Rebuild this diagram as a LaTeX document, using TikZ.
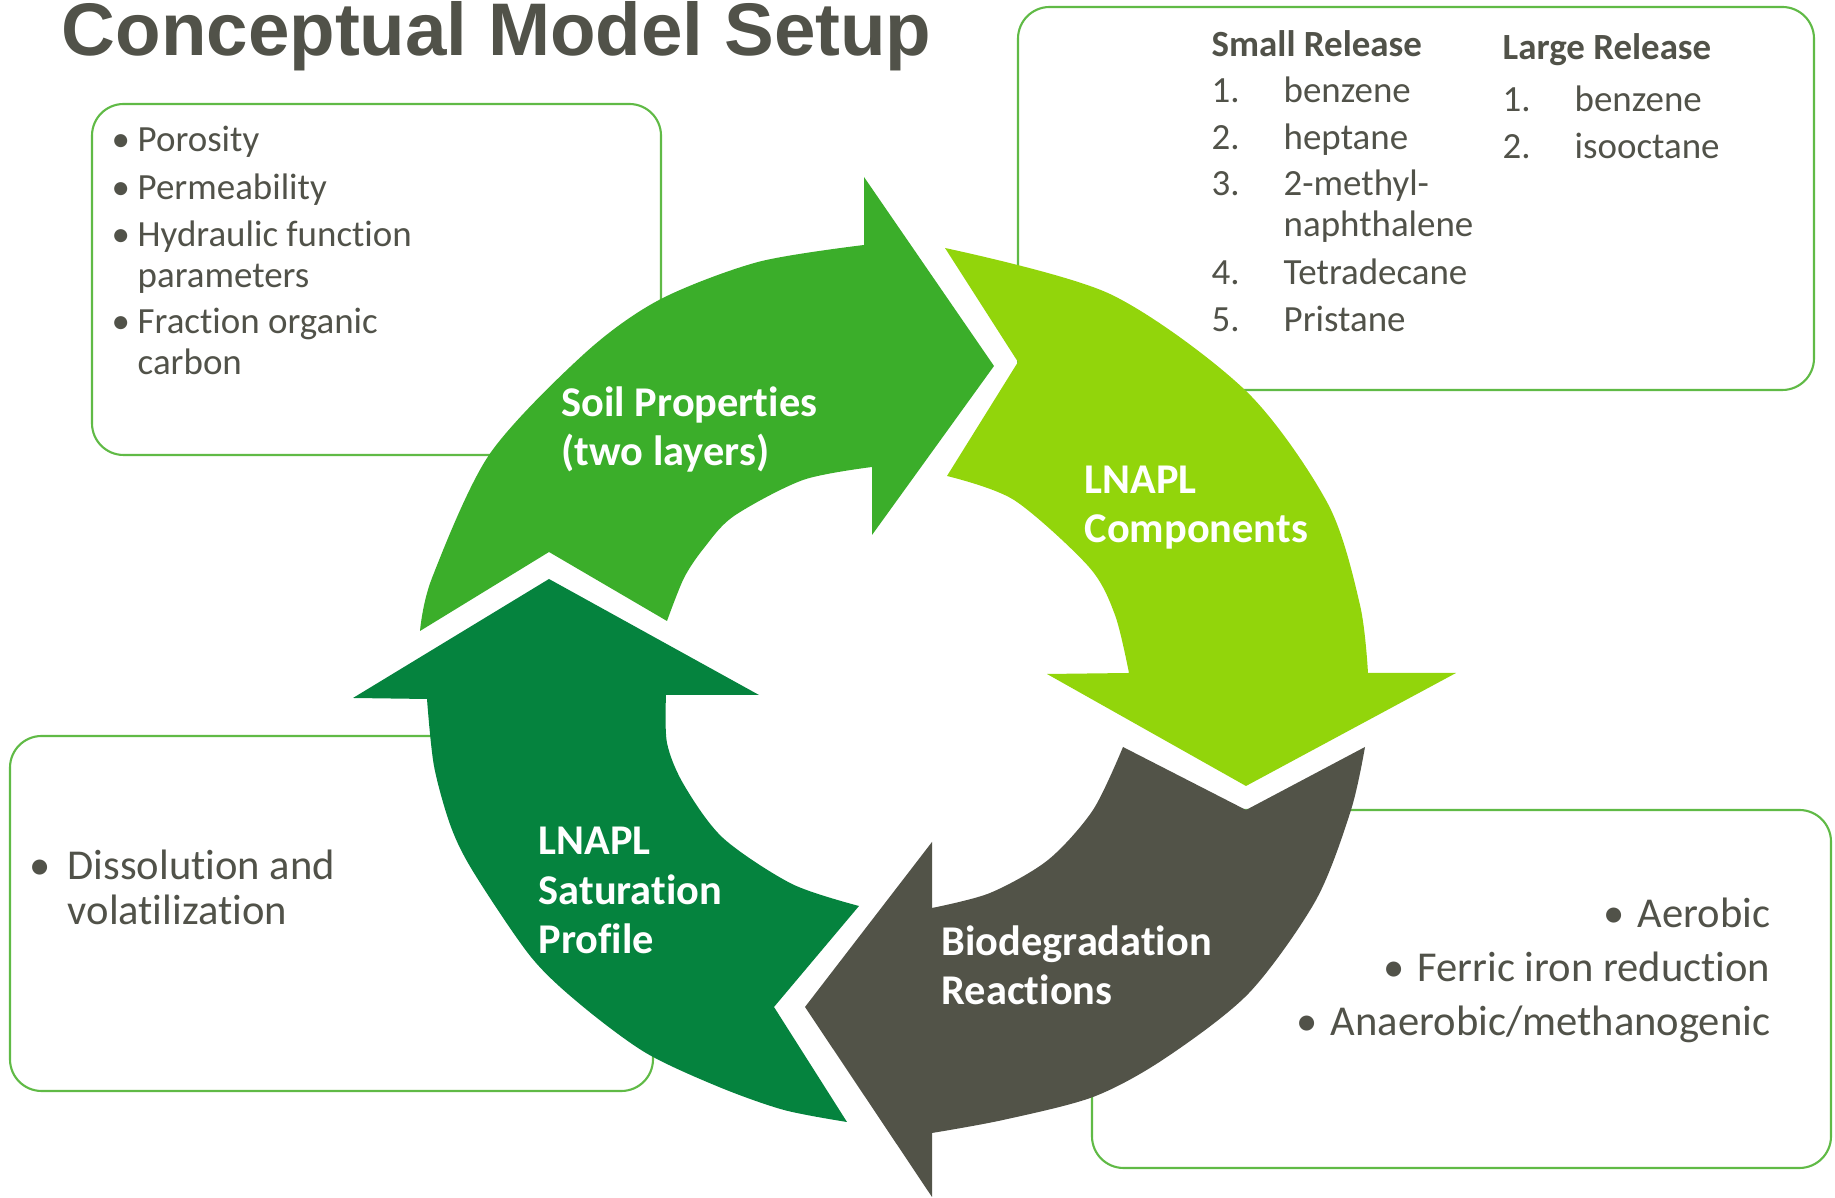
\documentclass[tikz,border=0pt]{standalone}
\usepackage{fontspec}
\setmainfont{Carlito}[Ligatures=NoCommon]
\newfontfamily\titlefont{Liberation Sans}

\definecolor{textgray}{RGB}{81,82,73}
\definecolor{boxgreen}{RGB}{96,186,70}
\definecolor{soilgreen}{RGB}{59,174,42}
\definecolor{compgreen}{RGB}{146,213,11}
\definecolor{satgreen}{RGB}{5,131,62}
\definecolor{biogray}{RGB}{82,83,72}

\begin{document}
\begin{tikzpicture}[x=0.01cm,y=-0.01cm,
    infobox/.style={draw=boxgreen,line width=0.6pt,rounded corners=9pt,fill=white},
    listtext/.style={anchor=base west,inner sep=0pt,text=textgray,align=left,
      font=\fontsize{10.5}{11.7}\selectfont},
    bigtext/.style={listtext,font=\fontsize{12.1}{13}\selectfont},
    arrowtext/.style={anchor=base west,inner sep=0pt,text=white,align=left,
      font=\bfseries\fontsize{12.05}{14.2}\selectfont}]

    \useasboundingbox (0,0) rectangle (1835,1198);

    % Title
    \node[anchor=base west,inner sep=0pt,text=textgray,
      font=\titlefont\bfseries\fontsize{21.2}{25}\selectfont] (title) at (61,56) {Conceptual Model Setup};

    % Boxes (behind the cycle)
    \draw[infobox] (92,104) rectangle (661,455);
    \draw[infobox] (1018,7) rectangle (1814,390);
    \draw[infobox] (10,736) rectangle (653,1091);
    \draw[infobox] (1092,810) rectangle (1831,1168);

    % Soil parameters (multi-line nodes sit on their last baseline)
    \node[listtext] (poro) at (111,152) {\makebox[0.26cm][l]{•}Porosity};
    \node[listtext] (perm) at (111,200) {\makebox[0.26cm][l]{•}Permeability};
    \node[listtext] (hydr) at (111,288) {\makebox[0.26cm][l]{•}Hydraulic function\\\hspace*{0.26cm}parameters};
    \node[listtext] (foc) at (111,375) {\makebox[0.26cm][l]{•}Fraction organic\\\hspace*{0.26cm}carbon};

    % Components
    \node[listtext,font=\bfseries\fontsize{10.5}{11.7}\selectfont] (small) at (1211,57) {Small Release};
    \node[listtext] (s1) at (1211,103) {\makebox[0.72cm][l]{1.}benzene};
    \node[listtext] (s2) at (1211,150) {\makebox[0.72cm][l]{2.}heptane};
    \node[listtext] (s3) at (1211,237) {\makebox[0.72cm][l]{3.}2-methyl-\\\hspace*{0.72cm}naphthalene};
    \node[listtext] (s4) at (1211,285) {\makebox[0.72cm][l]{4.}Tetradecane};
    \node[listtext] (s5) at (1211,332) {\makebox[0.72cm][l]{5.}Pristane};
    \node[listtext,font=\bfseries\fontsize{10.5}{11.7}\selectfont] (large) at (1502,60) {Large Release};
    \node[listtext] (l1) at (1502,112) {\makebox[0.72cm][l]{1.}benzene};
    \node[listtext] (l2) at (1502,159) {\makebox[0.72cm][l]{2.}isooctane};

    % Saturation
    \node[bigtext] (diss) at (29,925) {\makebox[0.38cm][l]{•}Dissolution and\\\hspace*{0.38cm}volatilization};

    % Reactions
    \node[bigtext,anchor=base east] (aer) at (1771,928) {\makebox[0.34cm][l]{•}Aerobic};
    \node[bigtext,anchor=base east] (fe) at (1771,982) {\makebox[0.34cm][l]{•}Ferric iron reduction};
    \node[bigtext,anchor=base east] (anaer) at (1771,1036) {\makebox[0.34cm][l]{•}Anaerobic/methanogenic};

    % Cycle arrows
    \fill[soilgreen] plot[smooth] coordinates {(420,631) (432,578) (489,455) (584,354) (659,300) (758,262) (864,245)}
      -- (864,177) -- (994,366) -- (872,535)
      -- plot[smooth] coordinates {(872,467) (803,480) (734,516) (704,548) (684,578) (667,621)}
      -- (549,552) -- cycle;
    \fill[compgreen] plot[smooth] coordinates {(945,248) (1110,294) (1246,391) (1328,504) (1360,605) (1368,673)}
      -- (1456,673) -- (1246,786) -- (1047,674)
      -- plot[smooth] coordinates {(1129,673) (1115,615) (1089,567) (1014,500) (947,476)}
      -- (1018,362) -- cycle;
    \fill[biogray] plot[smooth] coordinates {(1365,747) (1351,810) (1316,900) (1249,993) (1164,1059) (1093,1097) (1003,1120) (932,1133)}
      -- (932,1197) -- (805,1007) -- (932,842)
      -- plot[smooth] coordinates {(932,908) (990,893) (1048,860) (1093,810) (1123,747)}
      -- (1246,810) -- cycle;
    \fill[satgreen] plot[smooth] coordinates {(847,1122) (784,1110) (719,1087) (646,1053) (581,1005) (531,957) (474,873) (451,827) (434,766) (427,699)}
      -- (353,698) -- (549,579) -- (759,695)
      -- plot[smooth] coordinates {(666,695) (667,743) (684,785) (723,838) (792,884) (859,906)}
      -- (774,1007) -- cycle;

    % Arrow labels
    \node[arrowtext] (soil) at (561,466) {Soil Properties\\(two layers)};
    \node[arrowtext] (comp) at (1084,543) {LNAPL\\Components};
    \node[arrowtext] (sat) at (538,954) {LNAPL\\Saturation\\Profile};
    \node[arrowtext] (bio) at (941,1005) {Biodegradation\\Reactions};

\end{tikzpicture}
\end{document}
